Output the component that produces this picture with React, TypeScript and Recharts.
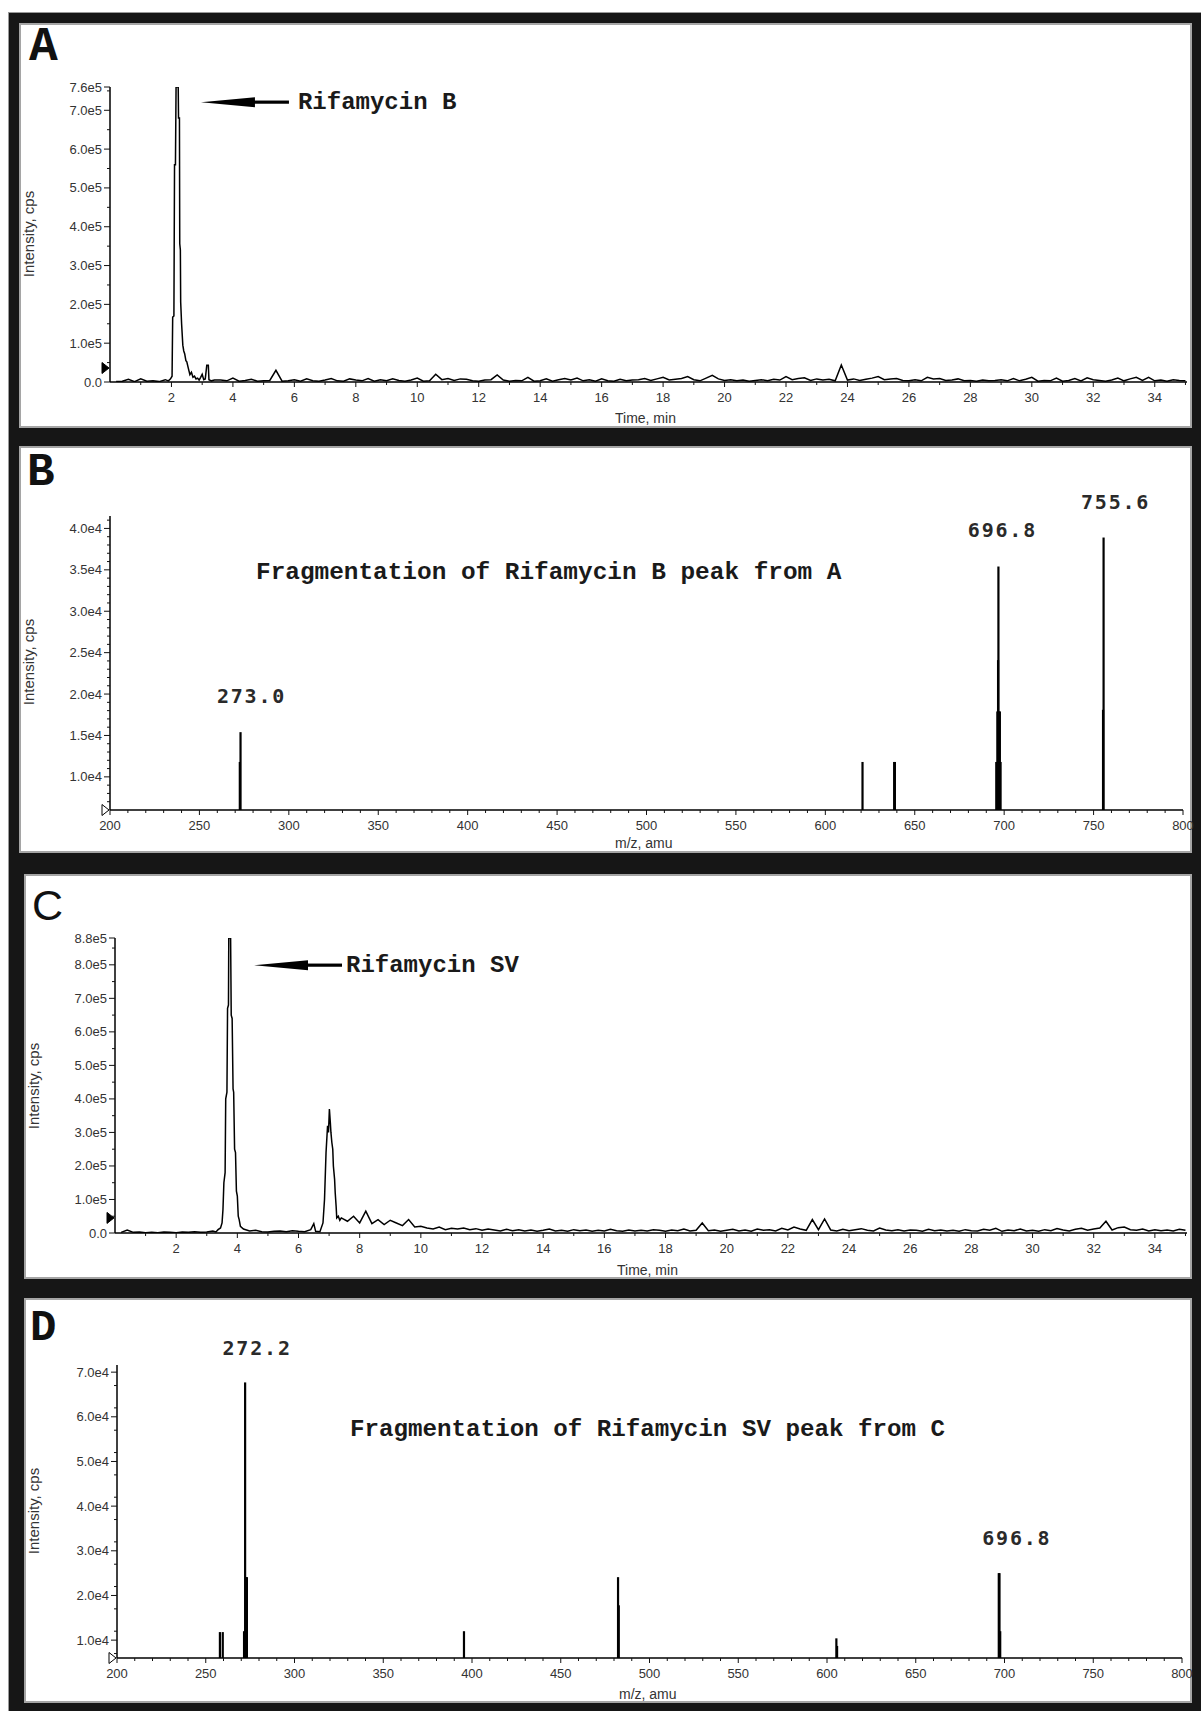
import React from "react"
import { LineChart, Line, ComposedChart, Bar, XAxis, YAxis, ReferenceDot } from "recharts"

const MONO = '"Liberation Mono", "Courier New", monospace'
const SANS = '"Liberation Sans", Arial, sans-serif'
const NUMS = '"DejaVu Sans Mono", monospace'

// chromatograms: time in min, intensity in kcps
const STEP = 0.2

// A - Rifamycin B
const ticALeadStart = 0.2
const ticALead = [1, 2, 7, 1, 8, 2, 3, 1, 6]
const ticAPeak = [
  [1.9, 3], [1.97, 8], [2.02, 15], [2.04, 167], [2.08, 170], [2.1, 560], [2.13, 560], [2.15, 760],
  [2.18, 760], [2.2, 760], [2.22, 760], [2.23, 680], [2.26, 680], [2.27, 356], [2.29, 340], [2.3, 206],
  [2.33, 150], [2.37, 95], [2.4, 80], [2.43, 73], [2.47, 55], [2.5, 52], [2.55, 35], [2.6, 19],
  [2.65, 25], [2.7, 12], [2.75, 15], [2.8, 8], [2.85, 10], [2.9, 5], [2.95, 12], [3.0, 20],
  [3.05, 6], [3.1, 8], [3.15, 43], [3.2, 43], [3.22, 6], [3.3, 3], [3.4, 5],
]
const ticATailStart = 3.6
const ticATail = [
  5, 3, 10, 2, 4, 7, 2, 3, 4, 30,
  2, 3, 6, 2, 8, 3, 2, 5, 9, 3,
  2, 8, 5, 3, 9, 2, 6, 3, 8, 4,
  2, 5, 10, 2, 3, 20, 6, 9, 4, 8,
  7, 3, 2, 5, 6, 18, 5, 2, 4, 3,
  12, 2, 3, 8, 2, 6, 9, 5, 10, 3,
  6, 2, 8, 3, 2, 7, 3, 5, 6, 9,
  4, 8, 12, 5, 7, 9, 14, 6, 3, 10,
  17, 8, 4, 6, 3, 5, 2, 4, 6, 3,
  7, 5, 14, 6, 9, 11, 4, 8, 5, 7,
  3, 44, 5, 8, 4, 7, 10, 14, 6, 8,
  9, 4, 3, 6, 3, 12, 8, 9, 4, 5,
  8, 3, 4, 2, 5, 3, 4, 6, 3, 9,
  3, 7, 12, 2, 4, 3, 10, 2, 4, 9,
  3, 11, 6, 4, 2, 5, 10, 3, 8, 12,
  4, 12, 3, 5, 2, 6, 4, 3,
]

// C - Rifamycin SV
const ticCLeadStart = 0.2
const ticCLead = [2, 9, 2, 3, 1, 2, 1, 3, 2, 1, 3, 2, 4, 2, 3, 6]
const ticCPeak1 = [
  [3.3, 3], [3.37, 10], [3.45, 15], [3.5, 30], [3.53, 70], [3.56, 150], [3.6, 180], [3.62, 400],
  [3.66, 420], [3.68, 670], [3.71, 680], [3.72, 880], [3.78, 880], [3.8, 650], [3.83, 640], [3.86, 430],
  [3.88, 420], [3.91, 250], [3.94, 240], [3.97, 125], [4.0, 110], [4.03, 50], [4.06, 40], [4.1, 20],
]
const ticCMidStart = 4.2
const ticCMid = [12, 6, 8, 4, 3, 5, 6, 4, 7, 5, 4, 10]
const ticCPeak2 = [
  [6.5, 28], [6.56, 5], [6.7, 4], [6.8, 30], [6.85, 100], [6.9, 240], [6.95, 320], [6.98, 300],
  [7.01, 370], [7.04, 330], [7.06, 300], [7.09, 270], [7.12, 250], [7.14, 200], [7.18, 160], [7.2, 120],
  [7.23, 80], [7.25, 45], [7.3, 50], [7.35, 38],
]
const ticCTailStart = 7.4
const ticCTail = [
  45, 35, 50, 30, 65, 28, 40, 25, 38, 30,
  22, 40, 18, 20, 15, 12, 18, 10, 14, 12,
  15, 10, 13, 8, 12, 9, 6, 11, 7, 10,
  6, 9, 5, 8, 12, 6, 8, 5, 10, 7,
  9, 5, 8, 6, 11, 7, 5, 9, 6, 8,
  6, 10, 8, 5, 9, 7, 12, 6, 8, 30,
  7, 9, 5, 8, 11, 6, 9, 5, 12, 8,
  10, 6, 14, 9, 18, 12, 8, 40, 10, 42,
  9, 6, 11, 7, 10, 13, 8, 6, 15, 9,
  7, 10, 6, 9, 8, 5, 11, 7, 9, 6,
  8, 5, 10, 7, 6, 11, 8, 14, 5, 9,
  7, 12, 6, 8, 5, 10, 7, 13, 9, 6,
  11, 14, 8, 12, 15, 35, 9, 16, 18, 10,
  8, 12, 6, 10, 7, 9, 6, 11, 8,
]

// B - product ions of Rifamycin B (m/z, cps)
const msBmz = [272.6, 273.0, 620.8, 638.5, 638.9, 695.6, 696.2, 696.6, 696.8, 697.2, 697.6, 698.0, 755.3, 755.6]
const msBint = [11800, 15400, 11800, 11800, 11800, 11800, 17900, 24100, 35400, 17900, 17900, 11800, 18100, 38900]
const msBLabels = [
  { mz: 273.0, i: 15400, text: "273.0" },
  { mz: 696.8, i: 35400, text: "696.8" },
  { mz: 755.6, i: 38900, text: "755.6" },
]

// D - product ions of Rifamycin SV
const msDmz = [258.0, 259.6, 271.6, 272.2, 272.8, 273.2, 395.5, 482.3, 482.7, 605.3, 605.7, 696.8, 697.2, 697.6]
const msDint = [11800, 11800, 12000, 67700, 24100, 24100, 12000, 24100, 17800, 10400, 8700, 25000, 25000, 12000]
const msDLabels = [
  { mz: 272.2, i: 67700, text: "272.2" },
  { mz: 696.8, i: 25000, text: "696.8" },
]

// axis ticks
const timeTicks = [2, 4, 6, 8, 10, 12, 14, 16, 18, 20, 22, 24, 26, 28, 30, 32, 34]
const mzTicks = [200, 250, 300, 350, 400, 450, 500, 550, 600, 650, 700, 750, 800]
const yTicksA = [0, 100000, 200000, 300000, 400000, 500000, 600000, 700000, 760000]
const yTicksC = [0, 100000, 200000, 300000, 400000, 500000, 600000, 700000, 800000, 880000]
const yTicksB = [10000, 15000, 20000, 25000, 30000, 35000, 40000]
const yTicksD = [10000, 20000, 30000, 40000, 50000, 60000, 70000]

const steps = (from: number, to: number, step: number) => {
  const out: number[] = []
  for (let v = from; v <= to + 1e-9; v += step) out.push(+v.toFixed(4))
  return out
}

const series = (start: number, vals: number[]) =>
  vals.map((v, k) => ({ t: +(start + k * STEP).toFixed(2), i: v * 1000 }))
const pairs = (arr: number[][]) => arr.map(([t, v]) => ({ t, i: v * 1000 }))

const ticA = [...series(ticALeadStart, ticALead), ...pairs(ticAPeak), ...series(ticATailStart, ticATail)]
const ticC = [
  ...series(ticCLeadStart, ticCLead),
  ...pairs(ticCPeak1),
  ...series(ticCMidStart, ticCMid),
  ...pairs(ticCPeak2),
  ...series(ticCTailStart, ticCTail),
]
const msB = msBmz.map((mz, k) => ({ mz, i: msBint[k] }))
const msD = msDmz.map((mz, k) => ({ mz, i: msDint[k] }))

const fmtE5 = (v: number) => (v === 0 ? "0.0" : (v / 1e5).toFixed(1) + "e5")
const fmtE4 = (v: number) => (v / 1e4).toFixed(1) + "e4"

const yTick = (majors: number[], fmt: (v: number) => string) => (props: any) => {
  const { x, y, payload } = props
  const major = majors.includes(payload.value)
  return (
    <g>
      <line x1={x - (major ? 6 : 3)} x2={x} y1={y} y2={y} stroke="#111" strokeWidth={1} />
      {major && (
        <text x={x - 8} y={y + 4.5} textAnchor="end" fontFamily={SANS} fontSize={13} fill="#333">
          {fmt(payload.value)}
        </text>
      )}
    </g>
  )
}

const xTick = (majors: number[]) => (props: any) => {
  const { x, y, payload } = props
  const major = majors.includes(payload.value)
  return (
    <g>
      <line x1={x} x2={x} y1={y} y2={y + (major ? 5 : 3)} stroke="#111" strokeWidth={1} />
      {major && (
        <text x={x} y={y + 19.5} textAnchor="middle" fontFamily={SANS} fontSize={13} fill="#333">
          {payload.value}
        </text>
      )}
    </g>
  )
}

const triangle = (filled: boolean) => (p: any) => (
  <path
    d={`M${p.cx - 8} ${p.cy - 5.5} L${p.cx - 1} ${p.cy} L${p.cx - 8} ${p.cy + 5.5} Z`}
    fill={filled ? "#000" : "#fff"}
    stroke="#000"
    strokeWidth={1}
  />
)

const arrowLabel = (text: string, gap: number) => (p: any) => (
  <g>
    <path d={`M${p.cx} ${p.cy} L${p.cx + 54} ${p.cy - 5} L${p.cx + 54} ${p.cy + 5} Z`} fill="#000" />
    <rect x={p.cx + 50} y={p.cy - 1.6} width={38} height={3.2} fill="#000" />
    <text x={p.cx + gap} y={p.cy + 7} fontFamily={MONO} fontWeight="bold" fontSize={24} fill="#1a1a1a">
      {text}
    </text>
  </g>
)

const peakText = (text: string, dx: number, dy: number) => (p: any) => (
  <text x={p.cx + dx} y={p.cy + dy} textAnchor="middle" fontFamily={NUMS} fontWeight="bold" fontSize={20} letterSpacing={1.8} fill="#2a2a2a">
    {text}
  </text>
)

// stick drawn centred on its m/z, independent of the tiny band width
const stick = (p: any) => (
  <rect x={p.x + p.width / 2 - 1.1} y={p.y} width={2.2} height={Math.max(p.height, 0)} fill="#000" />
)

const nudgeB = [[11, -29], [4, -29.5], [12, -28.5]]
const nudgeD = [[12, -27], [18, -28]]

const axisLine = { stroke: "#000", strokeWidth: 1.5 }

function Chromatogram(props: {
  top: number
  height: number
  left: number
  right: number
  plotTop: number
  plotBottom: number
  data: { t: number; i: number }[]
  yMax: number
  yTicks: number[]
  marker: number
  arrowAt: [number, number]
  title: string
  gap: number
}) {
  const { top, height, left, right, plotTop, plotBottom, data, yMax, yTicks, marker, arrowAt, title, gap } = props
  const yAll = [...yTicks, ...steps(50000, yMax, 100000)].sort((a, b) => a - b)
  const xAll = [...timeTicks, ...steps(1, 35, 2)].sort((a, b) => a - b)
  return (
    <div style={{ position: "absolute", left: 0, top }}>
      <LineChart
        width={1203}
        height={height}
        data={data}
        margin={{ top: plotTop - top, right: 1203 - right, bottom: top + height - plotBottom - 30, left: 0 }}
      >
        <XAxis
          type="number"
          dataKey="t"
          domain={[0, 35.05]}
          allowDataOverflow
          ticks={xAll}
          interval={0}
          height={30}
          tickSize={0}
          tickMargin={0}
          tickLine={false}
          axisLine={axisLine}
          tick={xTick(timeTicks)}
        />
        <YAxis
          type="number"
          domain={[0, yMax]}
          allowDataOverflow
          ticks={yAll}
          interval={0}
          width={left}
          tickSize={0}
          tickMargin={0}
          tickLine={false}
          axisLine={axisLine}
          tick={yTick(yTicks, fmtE5)}
        />
        <Line type="linear" dataKey="i" stroke="#000" strokeWidth={1.5} dot={false} isAnimationActive={false} />
        <ReferenceDot x={0} y={marker} r={0} ifOverflow="visible" shape={triangle(true)} />
        <ReferenceDot x={arrowAt[0]} y={arrowAt[1]} r={0} ifOverflow="visible" shape={arrowLabel(title, gap)} />
      </LineChart>
    </div>
  )
}

function Spectrum(props: {
  top: number
  height: number
  left: number
  right: number
  plotTop: number
  plotBottom: number
  data: { mz: number; i: number }[]
  yMax: number
  yTicks: number[]
  yMinorStep: number
  labels: { mz: number; i: number; text: string }[]
  nudge: number[][]
}) {
  const { top, height, left, right, plotTop, plotBottom, data, yMax, yTicks, yMinorStep, labels, nudge } = props
  const yAll = Array.from(new Set([...yTicks, ...steps(7000, yMax, yMinorStep)])).sort((a, b) => a - b)
  const xAll = steps(200, 800, 10)
  return (
    <div style={{ position: "absolute", left: 0, top }}>
      <ComposedChart
        width={1203}
        height={height}
        data={data}
        margin={{ top: plotTop - top, right: 1203 - right, bottom: top + height - plotBottom - 30, left: 0 }}
      >
        <XAxis
          type="number"
          dataKey="mz"
          domain={[200, 800]}
          allowDataOverflow
          ticks={xAll}
          interval={0}
          height={30}
          tickSize={0}
          tickMargin={0}
          tickLine={false}
          axisLine={axisLine}
          tick={xTick(mzTicks)}
        />
        <YAxis
          type="number"
          domain={[6000, yMax]}
          allowDataOverflow
          ticks={yAll}
          interval={0}
          width={left}
          tickSize={0}
          tickMargin={0}
          tickLine={false}
          axisLine={axisLine}
          tick={yTick(yTicks, fmtE4)}
        />
        <Bar dataKey="i" fill="#000" barSize={2} shape={stick} isAnimationActive={false} />
        <ReferenceDot x={200} y={6000} r={0} ifOverflow="visible" shape={triangle(false)} />
        {labels.map((l, k) => (
          <ReferenceDot
            key={l.text + k}
            x={l.mz}
            y={l.i}
            r={0}
            ifOverflow="visible"
            shape={peakText(l.text, nudge[k][0], nudge[k][1])}
          />
        ))}
      </ComposedChart>
    </div>
  )
}

const panels = [
  { x: 19, y: 23, w: 1173, h: 405 },
  { x: 19, y: 446, w: 1173, h: 407 },
  { x: 24, y: 874, w: 1168, h: 405 },
  { x: 24, y: 1298, w: 1168, h: 405 },
]

export default function App() {
  return (
    <div style={{ position: "absolute", left: 0, top: 0, width: 1203, height: 1711, background: "#fff", overflow: "hidden" }}>
      <div
        style={{
          position: "absolute",
          left: 8,
          top: 12,
          width: 1193,
          height: 1699,
          background: "#161616",
          borderLeft: "1px solid #9a9a9a",
          borderTop: "1px solid #9a9a9a",
          boxSizing: "border-box",
        }}
      />
      {panels.map((p, k) => (
        <div
          key={k}
          style={{
            position: "absolute",
            left: p.x,
            top: p.y,
            width: p.w,
            height: p.h,
            background: "#fff",
            border: "2px solid #a5a5a5",
            boxSizing: "border-box",
          }}
        />
      ))}

      <Chromatogram
        top={0}
        height={440}
        left={110}
        right={1187}
        plotTop={87}
        plotBottom={382}
        data={ticA}
        yMax={760000}
        yTicks={yTicksA}
        marker={36000}
        arrowAt={[2.96, 721000]}
        title="Rifamycin B"
        gap={97}
      />
      <Spectrum
        top={440}
        height={420}
        left={110}
        right={1183}
        plotTop={516}
        plotBottom={810}
        data={msB}
        yMax={41500}
        yTicks={yTicksB}
        yMinorStep={1000}
        labels={msBLabels}
        nudge={nudgeB}
      />
      <Chromatogram
        top={860}
        height={430}
        left={115}
        right={1187}
        plotTop={938}
        plotBottom={1233}
        data={ticC}
        yMax={880000}
        yTicks={yTicksC}
        marker={45000}
        arrowAt={[4.545, 799000]}
        title="Rifamycin SV"
        gap={92}
      />
      <Spectrum
        top={1290}
        height={421}
        left={117}
        right={1182}
        plotTop={1365}
        plotBottom={1658}
        data={msD}
        yMax={71600}
        yTicks={yTicksD}
        yMinorStep={5000}
        labels={msDLabels}
        nudge={nudgeD}
      />

      <svg width={1203} height={1711} style={{ position: "absolute", left: 0, top: 0, pointerEvents: "none" }}>
        <text x={29} y={60} fontFamily={MONO} fontWeight="bold" fontSize={48} fill="#111">A</text>
        <text x={27} y={485} fontFamily={MONO} fontWeight="bold" fontSize={46} fill="#111">B</text>
        <text x={32} y={920} fontFamily={SANS} fontSize={43} fill="#111">C</text>
        <text x={30} y={1340} fontFamily={MONO} fontWeight="bold" fontSize={44} fill="#111">D</text>

        <text x={256} y={579} fontFamily={MONO} fontWeight="bold" fontSize={24.4} fill="#1a1a1a">
          Fragmentation of Rifamycin B peak from A
        </text>
        <text x={350} y={1436} fontFamily={MONO} fontWeight="bold" fontSize={24.2} fill="#1a1a1a">
          Fragmentation of Rifamycin SV peak from C
        </text>

        {[
          [34, 234],
          [34, 662],
          [39, 1086],
          [39, 1511],
        ].map(([bx, cy], k) => (
          <text key={k} transform="rotate(-90)" x={-cy} y={bx} textAnchor="middle" fontFamily={SANS} fontSize={15} fill="#333">
            Intensity, cps
          </text>
        ))}
        <text x={615} y={423} fontFamily={SANS} fontSize={14} fill="#333">Time, min</text>
        <text x={617} y={1275} fontFamily={SANS} fontSize={14} fill="#333">Time, min</text>
        <text x={615} y={848} fontFamily={SANS} fontSize={14} fill="#333">m/z, amu</text>
        <text x={619} y={1699} fontFamily={SANS} fontSize={14} fill="#333">m/z, amu</text>
      </svg>
    </div>
  )
}
